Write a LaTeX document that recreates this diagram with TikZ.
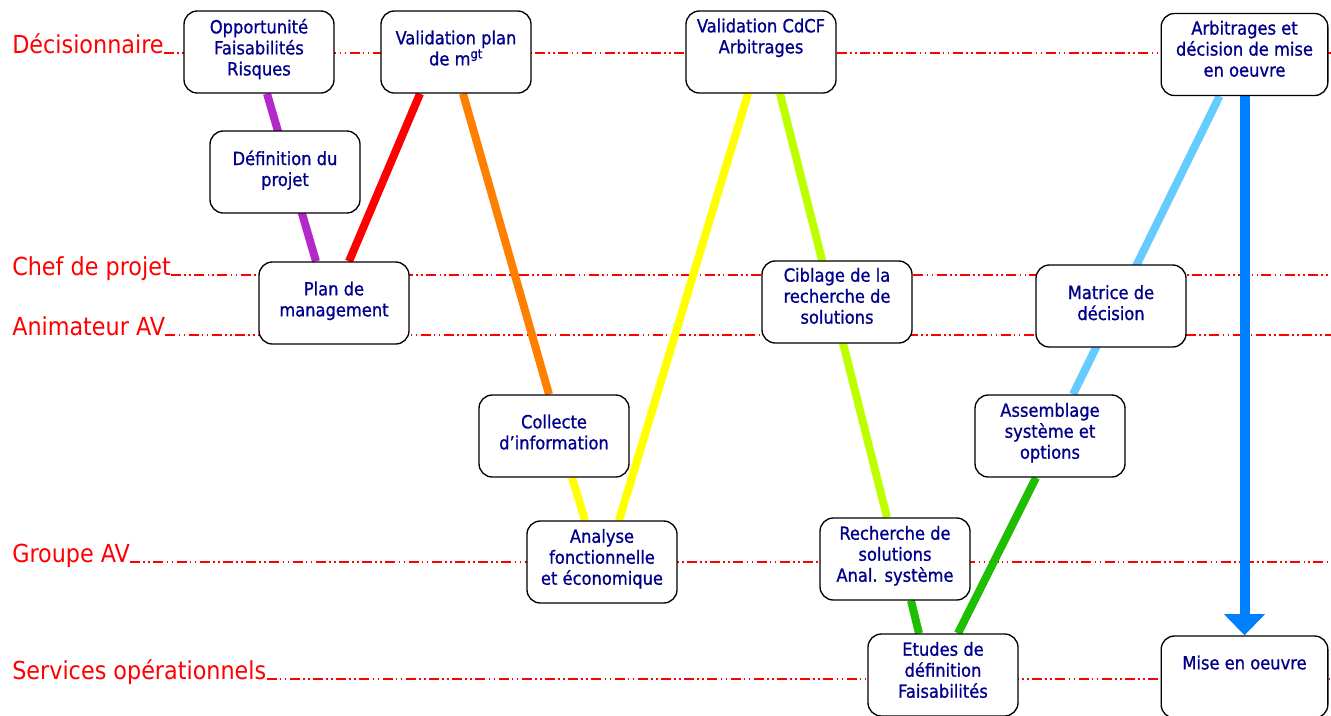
\documentclass[tikz,border=0pt]{standalone}
\usepackage{fontspec}
\IfFontExistsTF{DejaVu Sans Condensed}
  {\setmainfont{DejaVu Sans Condensed}\newfontfamily\cardfont{DejaVu Sans Condensed}[FakeBold=0.9]}
  {\setmainfont{DejaVu Sans}[FakeStretch=0.88]\newfontfamily\cardfont{DejaVu Sans}[FakeStretch=0.88,FakeBold=0.9]}
\usetikzlibrary{backgrounds,arrows.meta}

\definecolor{navytext}{RGB}{0,0,140}
\definecolor{laneRed}{RGB}{255,0,0}
\definecolor{cPurple}{RGB}{178,40,200}
\definecolor{cRed}{RGB}{255,0,0}
\definecolor{cOrange}{RGB}{255,128,0}
\definecolor{cYellow}{RGB}{255,255,0}
\definecolor{cLime}{RGB}{190,255,0}
\definecolor{cGreen}{RGB}{30,190,0}
\definecolor{cSky}{RGB}{102,204,255}
\definecolor{cBlue}{RGB}{0,128,255}

% text of a card: top-aligned, first baseline #2 below the top edge
\newcommand\cardtext[3][112.5pt]{\parbox[c][61.5pt][t]{#1}{\centering\rule{0pt}{#2}#3\par}}

\begin{document}
\begin{tikzpicture}[x=0.75pt,y=-0.75pt,
  card/.style={draw=black, line width=1pt, rounded corners=10pt, fill=white,
    inner sep=0pt, text=navytext, font=\cardfont\fontsize{13.6pt}{15.75pt}\selectfont},
  lane/.style={text=laneRed, inner sep=0pt, font=\fontsize{18.6pt}{21pt}\selectfont},
  laneline/.style={draw=laneRed, line width=0.9pt,
    dash pattern=on 7.5pt off 2.5pt on 1.2pt off 2.5pt on 1.2pt off 2.5pt},
  link/.style={line width=6pt},
  mainflow/.style={cBlue, line width=7.5pt, -{Triangle[width=30pt,length=16pt]}}]
\useasboundingbox (0,0) rectangle (1331,715);

% lanes
\node[lane, anchor=base west] (lDec)  at (12,53)  {Décisionnaire};
\node[lane, anchor=base west] (lChef) at (12,275) {Chef de projet};
\node[lane, anchor=base west] (lAnim) at (12,335) {Animateur AV};
\node[lane, anchor=base west] (lGrp)  at (12,562) {Groupe AV};
\node[lane, anchor=base west] (lSvc)  at (12,679) {Services opérationnels};
\coordinate (eDec)  at (1331,53);
\coordinate (eChef) at (1331,275);
\coordinate (eAnim) at (1331,335);
\coordinate (eGrp)  at (1331,562);
\coordinate (eSvc)  at (1331,679);

% cards
\node[card] (opp)  at (259,52)   {\cardtext{16.8pt}{Opportunité\\Faisabilités\\Risques}};
\node[card] (def)  at (285,172)  {\cardtext{25.5pt}{Définition du\\projet}};
\node[card] (valp) at (456,52)   {\cardtext{25pt}{Validation plan\\de m\textsuperscript{gt}}};
\node[card] (plan) at (334,303)  {\cardtext{25pt}{Plan de\\management}};
\node[card] (coll) at (554,436)  {\cardtext{25pt}{Collecte\\d’information}};
\node[card] (anal) at (602,562)  {\cardtext{16.3pt}{Analyse\\fonctionnelle\\et économique}};
\node[card] (cdcf) at (761,52)   {\cardtext{16pt}{Validation CdCF\\Arbitrages}};
\node[card] (cibl) at (837,302)  {\cardtext{15.5pt}{Ciblage de la\\recherche de\\solutions}};
\node[card] (rech) at (895,559)  {\cardtext{16.3pt}{Recherche de\\solutions\\Anal. système}};
\node[card] (etud) at (943,675)  {\cardtext{16.3pt}{Etudes de\\définition\\Faisabilités}};
\node[card] (assm) at (1050,436) {\cardtext{16.3pt}{Assemblage\\système et\\options}};
\node[card] (matr) at (1111,306) {\cardtext{25.5pt}{Matrice de\\décision}};
\node[card] (arbi) at (1244.5,54.5) {\cardtext[125pt]{15.8pt}{Arbitrages et\\décision de mise\\en oeuvre}};
\node[card] (mise) at (1244.5,677)  {\cardtext[125pt]{25pt}{Mise en oeuvre}};

\begin{scope}[on background layer]
  % lane lines
  \draw[laneline] (lDec.base east)  -- (eDec);
  \draw[laneline] (lChef.base east) -- (eChef);
  \draw[laneline] (lAnim.base east) -- (eAnim);
  \draw[laneline] (lGrp.base east)  -- (eGrp);
  \draw[laneline] (lSvc.base east)  -- (eSvc);
  % flow links
  \draw[link, cPurple] ([xshift=6pt]opp.south)     -- ([xshift=-13.5pt]plan.north);
  \draw[link, cRed]    ([xshift=-27pt]valp.south)  -- ([xshift=11.25pt]plan.north);
  \draw[link, cOrange] ([xshift=5.25pt]valp.south) -- ([xshift=-3.75pt]coll.north);
  \draw[link, cYellow] ([xshift=13.5pt]coll.south) -- ([xshift=-12.75pt]anal.north);
  \draw[link, cYellow] ([xshift=12.75pt]anal.north) -- ([xshift=-9.75pt]cdcf.south);
  \draw[link, cLime]   ([xshift=14.25pt]cdcf.south) -- ([xshift=-6pt]rech.north);
  \draw[link, cGreen]  ([xshift=12pt]rech.south)    -- ([xshift=-18pt]etud.north);
  \draw[link, cGreen]  ([xshift=11.25pt]etud.north) -- ([xshift=-10.5pt]assm.south);
  \draw[link, cSky]    ([xshift=17.25pt]assm.north) -- ([xshift=-18.75pt]arbi.south);
  \draw[mainflow] (arbi.south) -- (mise.north);
\end{scope}
\end{tikzpicture}
\end{document}
